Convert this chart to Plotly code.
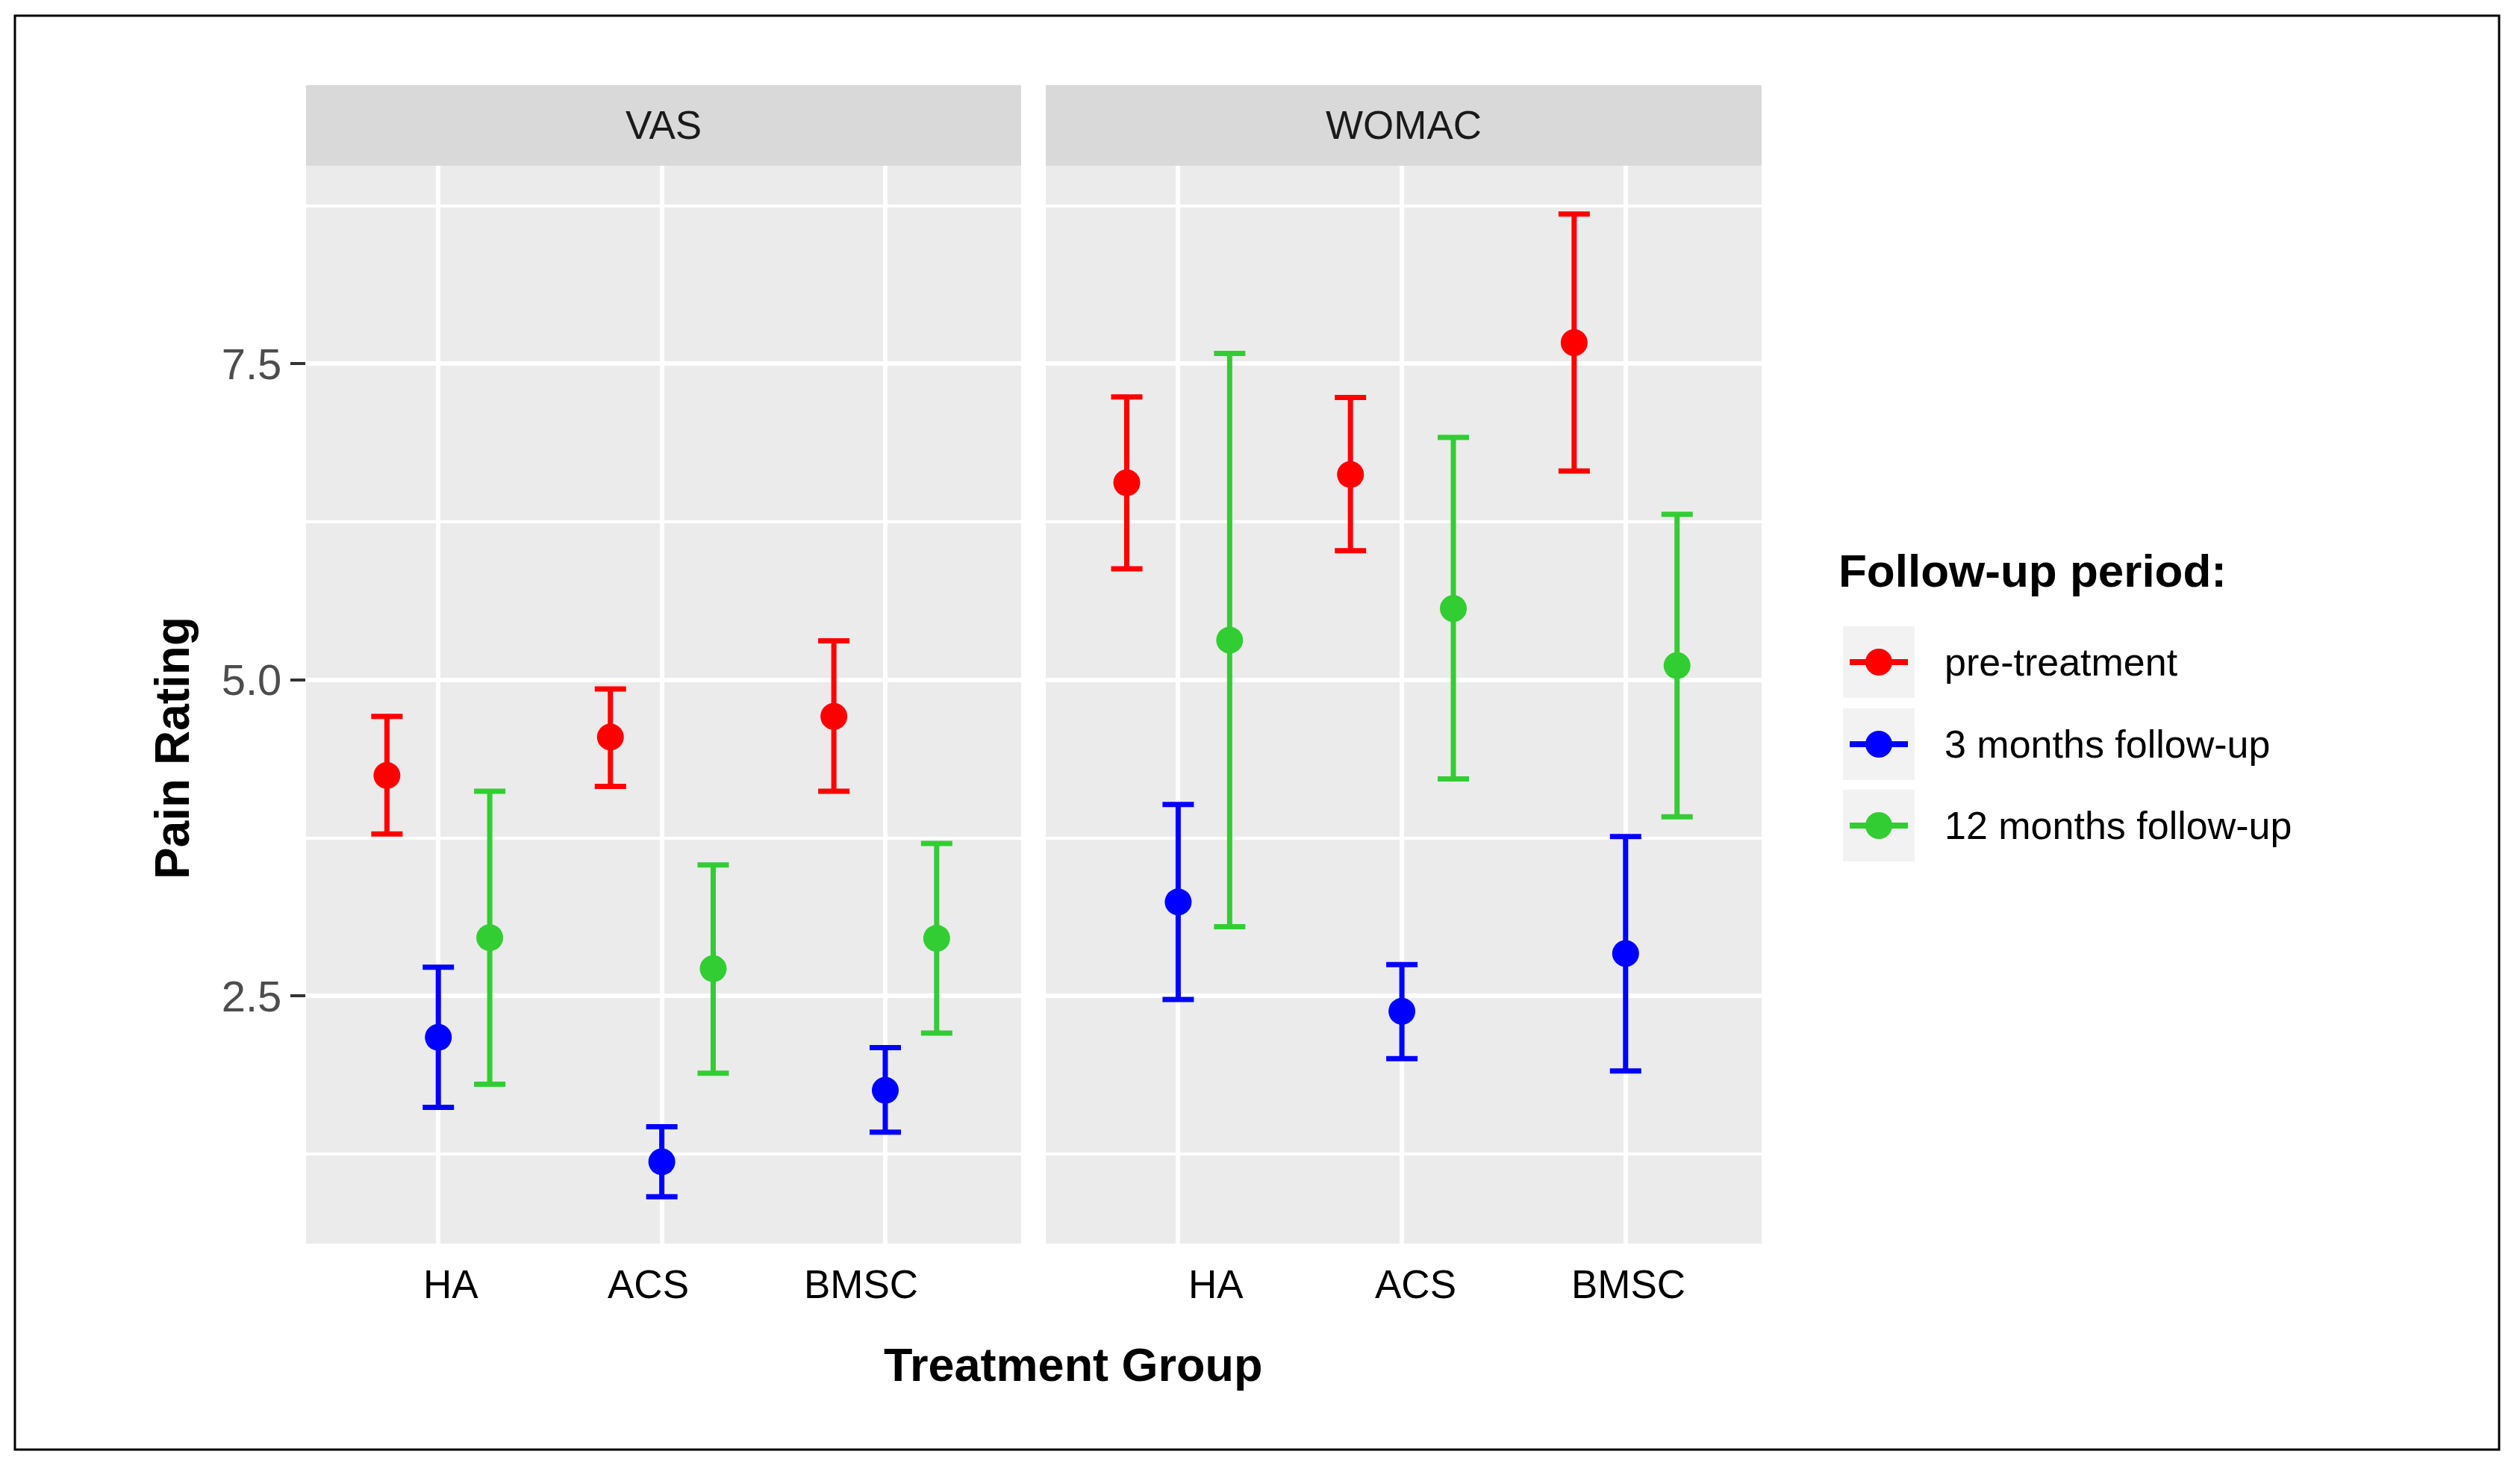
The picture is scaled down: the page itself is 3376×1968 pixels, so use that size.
import plotly.graph_objects as go

# ---------------- data ----------------
categories = ["HA", "ACS", "BMSC"]
panels = ["VAS", "WOMAC"]
periods = ["pre-treatment", "3 months follow-up", "12 months follow-up"]

vas_pre_mean = [4.245, 4.549, 4.712]
vas_pre_low = [3.783, 4.158, 4.120]
vas_pre_high = [4.712, 4.929, 5.310]
vas_3m_mean = [2.174, 1.190, 1.755]
vas_3m_low = [1.620, 0.913, 1.424]
vas_3m_high = [2.728, 1.467, 2.092]
vas_12m_mean = [2.962, 2.717, 2.957]
vas_12m_low = [1.804, 1.891, 2.207]
vas_12m_high = [4.120, 3.538, 3.707]

womac_pre_mean = [6.560, 6.625, 7.668]
womac_pre_low = [5.880, 6.022, 6.652]
womac_pre_high = [7.239, 7.234, 8.685]
womac_3m_mean = [3.245, 2.380, 2.837]
womac_3m_low = [2.473, 2.005, 1.908]
womac_3m_high = [4.016, 2.750, 3.761]
womac_12m_mean = [5.315, 5.565, 5.114]
womac_12m_low = [3.049, 4.217, 3.918]
womac_12m_high = [7.582, 6.918, 6.310]

y_tick_values = [2.5, 5.0, 7.5]
y_tick_labels = ["2.5", "5.0", "7.5"]
y_minor_values = [1.25, 3.75, 6.25, 8.75]

# ---------------- style ----------------
OFF = 8                      # page body margin of the html output
W, H = 3376 - 2 * OFF, 1968 - 2 * OFF
colors = ["#ff0000", "#0000ff", "#32cd32"]
dodge = [-0.23, 0.0, 0.23]
label_shift = {"VAS": [0.055, -0.059, -0.109], "WOMAC": [0.17, 0.06, 0.012]}
SANS = "Liberation Sans, Arial, sans-serif"

def px(v):
    return (v - OFF) / W

def py(v):
    return 1 - (v - OFF) / H

series = {
    "VAS": [(vas_pre_mean, vas_pre_low, vas_pre_high),
            (vas_3m_mean, vas_3m_low, vas_3m_high),
            (vas_12m_mean, vas_12m_low, vas_12m_high)],
    "WOMAC": [(womac_pre_mean, womac_pre_low, womac_pre_high),
              (womac_3m_mean, womac_3m_low, womac_3m_high),
              (womac_12m_mean, womac_12m_low, womac_12m_high)],
}

panel_px = {"VAS": (410, 1368), "WOMAC": (1401, 2360)}
panel_top, panel_bottom = 222, 1666
strip_top = 114

fig = go.Figure()
for p_i, panel in enumerate(panels):
    xa = "x" if p_i == 0 else "x2"
    ya = "y" if p_i == 0 else "y2"
    for k, (mean, low, high) in enumerate(series[panel]):
        fig.add_trace(go.Scatter(
            x=[i + dodge[k] for i in range(len(categories))],
            y=mean,
            mode="markers",
            marker=dict(color=colors[k], size=36),
            error_y=dict(type="data", symmetric=False,
                         array=[h - m for h, m in zip(high, mean)],
                         arrayminus=[m - l for m, l in zip(mean, low)],
                         color=colors[k], thickness=7, width=21),
            name=periods[k], showlegend=False,
            xaxis=xa, yaxis=ya,
        ))

xcommon = dict(range=[-0.592, 2.608], tickvals=[0, 1, 2], showticklabels=False,
               showgrid=True, gridcolor="white", gridwidth=6, zeroline=False,
               ticks="", showline=False)
ycommon = dict(range=[0.543, 9.067], tickvals=y_tick_values, ticktext=y_tick_labels,
               showgrid=True, gridcolor="white", gridwidth=6, zeroline=False,
               minor=dict(tickvals=y_minor_values, showgrid=True, gridcolor="white",
                          gridwidth=4, ticks=""),
               domain=[py(panel_bottom), py(panel_top)], showline=False)

fig.update_layout(
    width=W, height=H,
    margin=dict(l=0, r=0, t=0, b=0),
    paper_bgcolor="white", plot_bgcolor="#ebebeb",
    showlegend=False,
    xaxis=dict(domain=[px(panel_px["VAS"][0]), px(panel_px["VAS"][1])], anchor="y", **xcommon),
    xaxis2=dict(domain=[px(panel_px["WOMAC"][0]), px(panel_px["WOMAC"][1])], anchor="y2", **xcommon),
    yaxis=dict(anchor="x", ticks="outside", ticklen=20, tickwidth=4, tickcolor="#333333",
               tickfont=dict(family=SANS, size=58, color="#4d4d4d"), **ycommon),
    yaxis2=dict(anchor="x2", matches="y", showticklabels=False, ticks="", **ycommon),
)

shapes = []
annotations = []

# outer border
shapes.append(dict(type="rect", xref="paper", yref="paper",
                   x0=px(20), x1=px(3348), y0=py(1942), y1=py(21),
                   line=dict(color="black", width=3), fillcolor="rgba(0,0,0,0)"))

# strips and category labels
for p_i, panel in enumerate(panels):
    x0, x1 = panel_px[panel]
    shapes.append(dict(type="rect", xref="paper", yref="paper", layer="below",
                       x0=px(x0), x1=px(x1), y0=py(panel_top), y1=py(strip_top),
                       fillcolor="#d9d9d9", line=dict(width=0)))
    annotations.append(dict(text=panel, xref="paper", yref="paper",
                            x=px((x0 + x1) / 2), y=py((strip_top + panel_top) / 2),
                            xanchor="center", yanchor="middle", showarrow=False,
                            font=dict(family=SANS, size=53, color="#1a1a1a")))
    xr = "x" if p_i == 0 else "x2"
    for i, cat in enumerate(categories):
        annotations.append(dict(text=cat, xref=xr, yref="paper",
                                x=i + label_shift[panel][i], y=py(1720),
                                xanchor="center", yanchor="middle", showarrow=False,
                                font=dict(family=SANS, size=53, color="black")))

# axis titles
annotations.append(dict(text="<b>Treatment Group</b>", xref="paper", yref="paper",
                        x=px(1438), y=py(1828), xanchor="center", yanchor="middle",
                        showarrow=False, font=dict(family=SANS, size=63, color="black")))
annotations.append(dict(text="<b>Pain Rating</b>", xref="paper", yref="paper",
                        x=px(231), y=py(1002), xanchor="center", yanchor="middle",
                        textangle=-90, showarrow=False,
                        font=dict(family=SANS, size=64, color="black")))

# legend (drawn by hand to match the ggplot key layout)
annotations.append(dict(text="<b>Follow-up period:</b>", xref="paper", yref="paper",
                        x=px(2461), y=py(764), xanchor="left", yanchor="middle",
                        showarrow=False, font=dict(family=SANS, size=62, color="black")))
key_centers = [887, 997, 1106]
for k, name in enumerate(periods):
    cy = key_centers[k]
    shapes.append(dict(type="rect", xref="paper", yref="paper",
                       x0=px(2469), x1=px(2565), y0=py(cy + 48), y1=py(cy - 48),
                       fillcolor="#f2f2f2", line=dict(width=0)))
    shapes.append(dict(type="line", xref="paper", yref="paper",
                       x0=px(2478), x1=px(2556), y0=py(cy), y1=py(cy),
                       line=dict(color=colors[k], width=8)))
    shapes.append(dict(type="circle", xref="paper", yref="paper",
                       xsizemode="pixel", ysizemode="pixel",
                       xanchor=px(2517), yanchor=py(cy),
                       x0=-18, x1=18, y0=-18, y1=18,
                       fillcolor=colors[k], line=dict(width=0)))
    annotations.append(dict(text=name, xref="paper", yref="paper",
                            x=px(2603), y=py(cy), xanchor="left", yanchor="middle",
                            showarrow=False, font=dict(family=SANS, size=52, color="black")))

fig.update_layout(shapes=shapes, annotations=annotations)
fig.write_html("out.html")
